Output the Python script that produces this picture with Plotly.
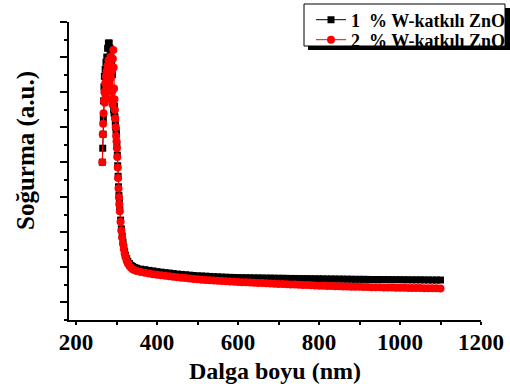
import plotly.graph_objects as go

# Wavelength (nm) and absorbance (a.u.)
x_peak_1 = [265, 266, 267, 267.5, 268, 269, 270, 272, 274, 276, 278, 280, 282, 284, 286, 288, 290,
            291, 292, 293, 294, 295, 296, 297, 298, 299]
y_peak_1 = [9.0, 9.8, 10.6, 11.5, 12.5, 13.3, 13.9, 14.3, 14.7, 15.0, 15.5, 15.8, 15.8, 15.5, 15.2,
            14.6, 14.0, 13.2, 12.5, 12.0, 11.8, 12.2, 11.6, 11.3, 11.0, 10.8]

x_peak_2 = [265, 266, 267, 268, 269, 270, 271, 272, 273, 274, 275, 276, 277, 278, 279, 280, 281,
            282, 283, 284, 285, 286, 287, 288, 289, 290, 291, 292, 293, 294, 295, 296, 297, 298, 299]
y_peak_2 = [9.0, 10.6, 11.2, 11.8, 12.5, 13.0, 12.4, 13.5, 12.8, 13.9, 13.2, 14.2, 13.6, 14.5, 13.8,
            14.8, 14.0, 13.4, 14.6, 13.1, 15.0, 13.8, 12.6, 14.2, 13.0, 12.3, 14.9, 15.4, 14.4, 13.2,
            12.6, 12.0, 11.5, 11.0, 10.5]

x_edge = [300, 301, 302, 303, 304, 305, 306, 307, 308, 310, 312, 314, 316, 318, 320, 322, 325, 328,
          332, 336, 340, 345, 350, 360, 370, 380, 390]
y_edge_1 = [10.6, 10.0, 9.4, 8.8, 8.2, 7.6, 7.1, 6.7, 6.3, 5.7, 5.2, 4.8, 4.45, 4.15, 3.9, 3.7, 3.5,
            3.35, 3.22, 3.12, 3.05, 2.99, 2.95, 2.90, 2.87, 2.83, 2.80]
y_edge_2 = [10.2, 9.8, 9.3, 8.7, 8.1, 7.5, 7.0, 6.6, 6.2, 5.6, 5.1, 4.7, 4.35, 4.05, 3.8, 3.6, 3.38,
            3.22, 3.08, 2.98, 2.90, 2.84, 2.80, 2.74, 2.69, 2.65, 2.61]

x_tail = [400, 410, 420, 430, 440, 450, 460, 470, 480, 490, 500, 510, 520, 530, 540, 550, 560, 570,
          580, 590, 600, 610, 620, 630, 640, 650, 660, 670, 680, 690, 700, 710, 720, 730, 740, 750,
          760, 770, 780, 790, 800, 810, 820, 830, 840, 850, 860, 870, 880, 890, 900, 910, 920, 930,
          940, 950, 960, 970, 980, 990, 1000, 1010, 1020, 1030, 1040, 1050, 1060, 1070, 1080, 1090, 1100]
y_tail_1 = [2.76, 2.73, 2.70, 2.68, 2.65, 2.62, 2.60, 2.58, 2.56, 2.54, 2.52,
            2.51, 2.50, 2.485, 2.47, 2.46, 2.45, 2.44, 2.435, 2.425, 2.42,
            2.415, 2.41, 2.405, 2.40, 2.40, 2.395, 2.39, 2.39, 2.385, 2.38,
            2.38, 2.375, 2.37, 2.37, 2.365, 2.36, 2.36, 2.355, 2.35, 2.35,
            2.345, 2.34, 2.34, 2.335, 2.335, 2.33, 2.33, 2.325, 2.32, 2.32,
            2.32, 2.315, 2.31, 2.31, 2.31, 2.305, 2.305, 2.30, 2.30, 2.30,
            2.295, 2.295, 2.29, 2.29, 2.29, 2.285, 2.285, 2.28, 2.28, 2.28]
y_tail_2 = [2.58, 2.55, 2.52, 2.49, 2.465, 2.44, 2.415, 2.39, 2.37, 2.345, 2.32,
            2.30, 2.285, 2.27, 2.255, 2.24, 2.225, 2.21, 2.195, 2.18, 2.17,
            2.16, 2.15, 2.14, 2.125, 2.115, 2.105, 2.095, 2.085, 2.07, 2.06,
            2.05, 2.04, 2.03, 2.02, 2.01, 2.00, 1.99, 1.98, 1.97, 1.96,
            1.955, 1.945, 1.94, 1.93, 1.925, 1.915, 1.91, 1.90, 1.895, 1.89,
            1.885, 1.88, 1.875, 1.87, 1.865, 1.86, 1.855, 1.85, 1.845, 1.84,
            1.835, 1.83, 1.83, 1.825, 1.82, 1.815, 1.81, 1.81, 1.805, 1.80]

names = ["1\u00a0\u00a0% W-katkılı ZnO", "2\u00a0\u00a0% W-katkılı ZnO"]
x_tick_vals = [200, 400, 600, 800, 1000, 1200]
x_title = "Dalga boyu (nm)"
y_title = "Soğurma (a.u.)"

x1 = x_peak_1 + x_edge + x_tail
y1 = y_peak_1 + y_edge_1 + y_tail_1
x2 = x_peak_2 + x_edge + x_tail
y2 = y_peak_2 + y_edge_2 + y_tail_2

FONT = "Liberation Serif"
L, R, T, B = 69, 29, 22, 70
PW, PH = 510 - L - R, 390 - T - B
X_RANGE = [182.7, 1200]


def px_to_paper(px, py):
    return (px - L) / PW, (390 - B - py) / PH


fig = go.Figure()
fig.add_trace(go.Scatter(x=x1, y=y1, name=names[0], mode="lines+markers", legend="legend",
                         line=dict(color="black", width=1),
                         marker=dict(symbol="square", size=7, color="black")))
fig.add_trace(go.Scatter(x=x2, y=y2, name=names[1], mode="lines+markers", legend="legend2",
                         line=dict(color="#ff0000", width=1),
                         marker=dict(symbol="circle", size=8, color="#ff0000")))

# legend frame with drop shadow (pixels: box 304..505 x 4..46)
sx0, sy0 = px_to_paper(308, 8)
sx1, sy1 = px_to_paper(510, 50)
fig.add_shape(type="rect", xref="paper", yref="paper", x0=sx0, x1=sx1, y0=sy1, y1=sy0,
              fillcolor="black", line=dict(width=0), layer="above")
bx0, by0 = px_to_paper(304, 4)
bx1, by1 = px_to_paper(505, 46)
fig.add_shape(type="rect", xref="paper", yref="paper", x0=bx0, x1=bx1, y0=by1, y1=by0,
              fillcolor="white", line=dict(color="black", width=1), layer="above")

lx, ly1 = px_to_paper(311, 20)
_, ly2 = px_to_paper(311, 40)
leg_common = dict(xanchor="left", yanchor="middle", bgcolor="rgba(0,0,0,0)", borderwidth=0,
                  font=dict(family=FONT, size=18, weight="bold"), itemwidth=30)

# y-axis title placed as rotated text (centre at x=26px, y=151px)
tx, ty = px_to_paper(26, 151)
fig.add_annotation(text=y_title, xref="paper", yref="paper", x=tx, y=ty,
                   xanchor="center", yanchor="middle", textangle=-90, showarrow=False,
                   font=dict(family=FONT, size=25, weight="bold", color="black"))

fig.update_layout(
    width=510, height=390,
    margin=dict(l=L, r=R, t=T, b=B, autoexpand=False),
    plot_bgcolor="white", paper_bgcolor="white",
    font=dict(family=FONT, color="black"),
    showlegend=True,
    legend=dict(x=lx, y=ly1, **leg_common),
    legend2=dict(x=lx, y=ly2, **leg_common),
    xaxis=dict(range=X_RANGE, tickvals=x_tick_vals,
               showline=True, linecolor="black", linewidth=2, mirror=False,
               ticks="",
               minor=dict(dtick=100, ticks="outside", ticklen=3, tickwidth=1.5, tickcolor="black"),
               showgrid=False, zeroline=False,
               tickfont=dict(family=FONT, size=23, weight="bold"),
               title=dict(text=x_title, font=dict(family=FONT, size=24, weight="bold"), standoff=9)),
    # overlay axis carrying only the longer major ticks
    xaxis2=dict(range=X_RANGE, tickvals=x_tick_vals, overlaying="x", side="bottom",
                anchor="y", showline=False, showgrid=False, zeroline=False,
                showticklabels=False, ticks="outside", ticklen=5, tickwidth=1.5,
                tickcolor="black"),
    yaxis=dict(range=[0, 17], tick0=1, dtick=2,
               showline=True, linecolor="black", linewidth=2,
               ticks="outside", ticklen=7, tickwidth=1.5, tickcolor="black",
               minor=dict(tick0=0, dtick=1, ticks="outside", ticklen=3, tickwidth=1.5, tickcolor="black"),
               showticklabels=False, showgrid=False, zeroline=False),
)

fig.write_html("out.html")
